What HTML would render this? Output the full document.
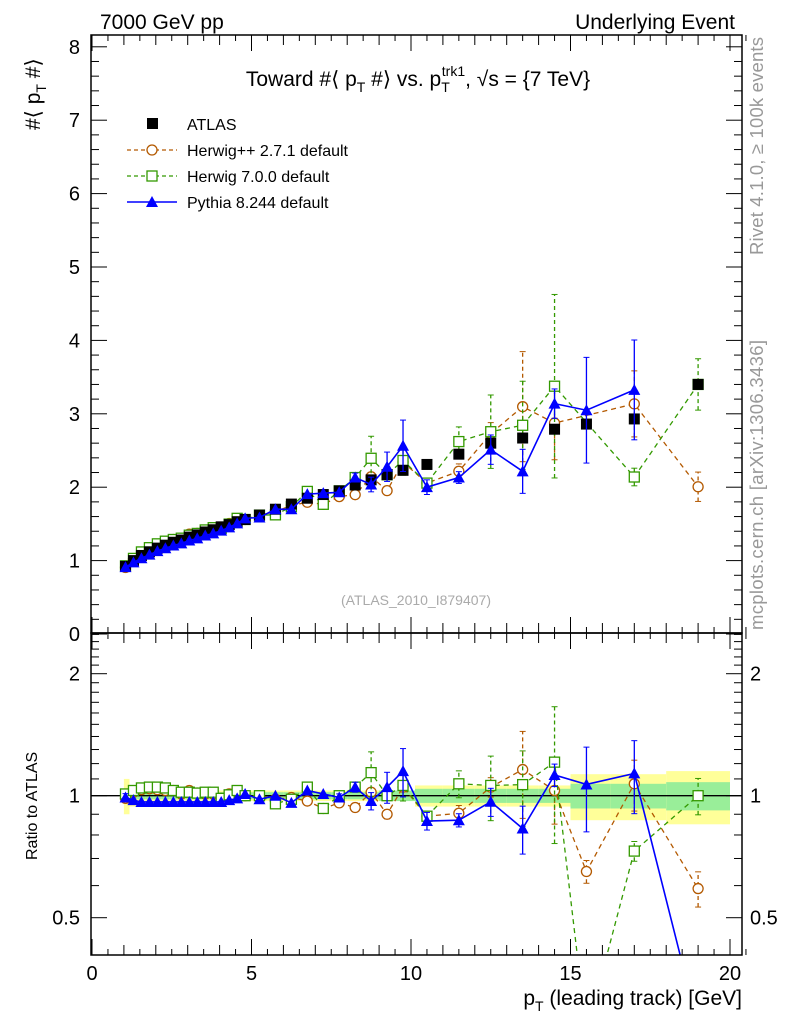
<!DOCTYPE html>
<html><head><meta charset="utf-8"><style>
body{margin:0;background:#fff}
svg{display:block;font-family:"Liberation Sans",sans-serif}
</style></head><body>
<svg id="c" width="786" height="1024" viewBox="0 0 786 1024">
<rect x="0" y="0" width="786" height="1024" fill="#fff"/>
<text x="100" y="29" font-size="21">7000 GeV pp</text>
<text x="735" y="29" font-size="21" text-anchor="end">Underlying Event</text>
<text x="418" y="86" font-size="21" text-anchor="middle">Toward #⟨ p<tspan font-size="14" dy="6">T</tspan><tspan dy="-6"> #⟩ vs. p</tspan><tspan font-size="14" dy="6">T</tspan><tspan font-size="14" dx="-8" dy="-16">trk1</tspan><tspan dy="10">, √s = {7 TeV}</tspan></text>
<text transform="translate(40,130) rotate(-90)" font-size="21">#⟨ p<tspan font-size="14" dy="6">T</tspan><tspan dy="-6"> #⟩</tspan></text>
<text transform="translate(37,860) rotate(-90)" font-size="16">Ratio to ATLAS</text>
<text x="742" y="1005" font-size="21" text-anchor="end">p<tspan font-size="14" dy="6">T</tspan><tspan dy="-6"> (leading track) [GeV]</tspan></text>
<text transform="translate(763,255) rotate(-90)" font-size="18.5" fill="#999" textLength="218">Rivet 4.1.0, ≥ 100k events</text>
<text transform="translate(763,630) rotate(-90)" font-size="18.5" fill="#999" textLength="290">mcplots.cern.ch [arXiv:1306.3436]</text>
<text x="416" y="605" font-size="14" fill="#aaa" text-anchor="middle">(ATLAS_2010_I879407)</text>
<g id="legend">
<g><rect x="147" y="118" width="11" height="11" fill="#000"/><text x="187" y="130" font-size="16">ATLAS</text></g>
<g><line x1="127" y1="150" x2="177" y2="150" stroke="#b35900" stroke-dasharray="4,3" stroke-width="1.3"/><circle cx="152" cy="150" r="5" fill="#fff" stroke="#b35900" stroke-width="1.3"/><text x="187" y="156" font-size="16">Herwig++ 2.7.1 default</text></g>
<g><line x1="127" y1="176" x2="177" y2="176" stroke="#339900" stroke-dasharray="4,3" stroke-width="1.3"/><rect x="147" y="171" width="10" height="10" fill="#fff" stroke="#339900" stroke-width="1.3"/><text x="187" y="182" font-size="16">Herwig 7.0.0 default</text></g>
<g><line x1="127" y1="202" x2="177" y2="202" stroke="#0000ff" stroke-width="1.5"/><polygon points="152,196 158,207 146,207" fill="#0000ff"/><text x="187" y="208" font-size="16">Pythia 8.244 default</text></g>
</g>
<g id="plots"></g>
</svg>
<script>
const xs=[1.05,1.3,1.55,1.8,2.05,2.3,2.55,2.8,3.05,3.3,3.55,3.8,4.05,4.3,4.55,4.8,5.25,5.75,6.25,6.75,7.25,7.75,8.25,8.75,9.25,9.75,10.5,11.5,12.5,13.5,14.5,15.5,17,19];
const atlas=[0.92,1.0,1.07,1.12,1.17,1.21,1.25,1.28,1.32,1.35,1.39,1.42,1.46,1.49,1.53,1.56,1.62,1.70,1.77,1.85,1.90,1.95,2.03,2.10,2.17,2.23,2.31,2.45,2.60,2.67,2.79,2.86,2.93,3.40];
const atlasTot=[0.10,0.06,0.05,0.05,0.04,0.04,0.04,0.04,0.04,0.04,0.04,0.04,0.03,0.03,0.03,0.03,0.03,0.03,0.03,0.03,0.03,0.03,0.03,0.03,0.03,0.03,0.06,0.06,0.06,0.06,0.06,0.13,0.13,0.15];
const atlasStat=[0.02,0.02,0.02,0.02,0.02,0.02,0.02,0.02,0.02,0.02,0.02,0.02,0.02,0.02,0.02,0.02,0.02,0.02,0.02,0.02,0.02,0.02,0.02,0.02,0.03,0.03,0.04,0.04,0.04,0.04,0.04,0.07,0.07,0.08];
const hppRatio=[0.985,1.02,1.035,1.04,1.035,1.03,1.03,1.01,1.03,1.015,1.01,1.01,0.985,1.01,1.02,1.0,1.0,0.98,0.99,0.97,0.93,0.96,0.935,1.02,0.9,1.05,0.89,0.905,1.05,1.16,1.03,0.65,1.07,0.59];
const hppInMain=[1,1,1,1,1,1,1,1,1,1,1,1,1,1,1,1,1,1,1,1,1,1,1,1,1,1,1,1,1,1,1,0,1,1];
const hppErr=[0.02,0.02,0.02,0.02,0.02,0.02,0.02,0.02,0.02,0.02,0.02,0.02,0.02,0.02,0.02,0.02,0.02,0.02,0.03,0.03,0.04,0.04,0.04,0.05,0.05,0.06,0.06,0.1,0.15,0.75,0.5,0.12,0.45,0.2];
const h7Ratio=[1.01,1.03,1.045,1.05,1.05,1.045,1.03,1.02,1.02,1.015,1.02,1.02,0.985,1.005,1.03,1.0,1.0,0.955,0.98,1.05,0.93,1.0,1.05,1.14,1.0,1.06,0.89,1.07,1.06,1.065,1.21,0.26,0.73,1.0];
const h7InMain=[1,1,1,1,1,1,1,1,1,1,1,1,1,1,1,1,1,1,1,1,1,1,1,1,1,1,1,1,1,1,1,0,1,1];
const h7Err=[0.02,0.02,0.02,0.02,0.02,0.02,0.02,0.02,0.02,0.02,0.02,0.02,0.02,0.02,0.02,0.02,0.02,0.02,0.03,0.03,0.04,0.04,0.05,0.3,0.05,0.2,0.06,0.2,0.5,0.6,1.25,0.1,0.12,0.35];
const pyRatio=[0.99,0.975,0.965,0.965,0.965,0.965,0.965,0.965,0.965,0.965,0.965,0.965,0.965,0.975,0.985,1.01,0.98,1.0,0.96,1.03,1.01,0.99,1.05,0.97,1.05,1.15,0.866,0.87,0.966,0.83,1.125,1.066,1.135,0.27];
const pyInMain=[1,1,1,1,1,1,1,1,1,1,1,1,1,1,1,1,1,1,1,1,1,1,1,1,1,1,1,1,1,1,1,1,1,0];
const pyErr=[0.02,0.02,0.02,0.02,0.02,0.02,0.02,0.02,0.02,0.02,0.02,0.02,0.02,0.02,0.02,0.02,0.02,0.02,0.02,0.03,0.03,0.04,0.06,0.1,0.2,0.35,0.1,0.08,0.2,0.3,0.2,0.72,0.68,0.1];
const xTicks=[0,5,10,15,20];
const yTicks=[0,1,2,3,4,5,6,7,8];
const rTicks=[0.5,1,2];

const NS='http://www.w3.org/2000/svg';
const L=91,R=742,T=35,M=633,B=955;
const X=v=>92+v*31.9;
const Y=v=>634-v*73.4;
const RY=v=>795.7-Math.log2(v)*122;
const g=document.getElementById('plots');
function mk(tag,at,parent){const e=document.createElementNS(NS,tag);for(const k in at)e.setAttribute(k,at[k]);(parent||g).appendChild(e);return e;}

const bands=mk('g',{});


for(let i=0;i<xs.length;i++){
  const lo=i==0?1.0:(xs[i-1]+xs[i])/2, hi=i==xs.length-1?20:(xs[i]+xs[i+1])/2;
  const y1=mk('rect',{x:X(lo),y:RY(1+atlasTot[i]),width:X(hi)-X(lo),height:RY(1-atlasTot[i])-RY(1+atlasTot[i]),fill:'#ffff99'},bands);
  
  
  const g1=mk('rect',{x:X(lo),y:RY(1+atlasStat[i]),width:X(hi)-X(lo),height:RY(1-atlasStat[i])-RY(1+atlasStat[i]),fill:'#99ee99'},bands);
  
  
}
const one=mk('line',{x1:L,x2:R,y1:RY(1),y2:RY(1),stroke:'#000','stroke-width':1.3});



const defs=mk('defs',{});
const c1=mk('clipPath',{id:'cm'},defs);mk('rect',{x:L,y:T,width:R-L,height:M-T},c1);
const c2=mk('clipPath',{id:'cr'},defs);mk('rect',{x:L,y:M,width:R-L,height:B-M},c2);

function marker(par,shape,x,y,col){
  let e;
  if(shape=='sq') e=mk('rect',{x:x-5,y:y-5,width:10,height:10,fill:'#fff',stroke:col,'stroke-width':1.3},par);
  else if(shape=='ci') e=mk('circle',{cx:x,cy:y,r:5,fill:'#fff',stroke:col,'stroke-width':1.3},par);
  else if(shape=='tr') e=mk('polygon',{points:`${x},${y-6} ${x+6},${y+5} ${x-6},${y+5}`,fill:col},par);
  else e=mk('rect',{x:x-5.5,y:y-5.5,width:11,height:11,fill:'#000'},par);
  
  
}
function series(name,ratio,inMain,err,col,dash,shape){
  const gm=mk('g',{'clip-path':'url(#cm)'});
  
  
  const gr=mk('g',{'clip-path':'url(#cr)'});
  
  
  let pm=[],pr=[];
  for(let i=0;i<xs.length;i++){
    const v=ratio[i]*atlas[i];
    if(inMain[i]) pm.push(X(xs[i])+','+Y(v));
    pr.push(X(xs[i])+','+RY(ratio[i]));
  }
  const a={fill:'none',stroke:col,'stroke-width':dash?1.3:1.6};
  if(dash)a['stroke-dasharray']='5,4';
  const l1=mk('polyline',Object.assign({points:pm.join(' ')},a),gm);
  
  
  const l2=mk('polyline',Object.assign({points:pr.join(' ')},a),gr);
  
  
  for(let i=0;i<xs.length;i++){
    const v=ratio[i]*atlas[i],x=X(xs[i]);
    const eb={stroke:col,'stroke-width':1.3};if(dash)eb['stroke-dasharray']='4,3';
    if(inMain[i]){
      if(err[i]>0.05){mk('line',Object.assign({x1:x,x2:x,y1:Y(v-err[i]),y2:Y(v+err[i])},eb),gm);
        mk('line',{x1:x-3,x2:x+3,y1:Y(v-err[i]),y2:Y(v-err[i]),stroke:col},gm);mk('line',{x1:x-3,x2:x+3,y1:Y(v+err[i]),y2:Y(v+err[i]),stroke:col},gm);}
      marker(gm,shape,x,Y(v),col);
    }
    const re=err[i]/atlas[i];
    if(re>0.02){const lo=Math.max(ratio[i]-re,0.01);
      mk('line',Object.assign({x1:x,x2:x,y1:RY(lo),y2:RY(ratio[i]+re)},eb),gr);
      mk('line',{x1:x-3,x2:x+3,y1:RY(lo),y2:RY(lo),stroke:col},gr);mk('line',{x1:x-3,x2:x+3,y1:RY(ratio[i]+re),y2:RY(ratio[i]+re),stroke:col},gr);}
    marker(gr,shape,x,RY(ratio[i]),col);
  }
}
series('herwigpp',hppRatio,hppInMain,hppErr,'#b35900',true,'ci');
series('herwig7',h7Ratio,h7InMain,h7Err,'#339900',true,'sq');
const ga=mk('g',{'clip-path':'url(#cm)'});


for(let i=0;i<xs.length;i++) marker(ga,'at',X(xs[i]),Y(atlas[i]),'#000');
series('pythia',pyRatio,pyInMain,pyErr,'#0000ff',false,'tr');

const ax=mk('g',{});


mk('rect',{x:L,y:T,width:R-L,height:M-T,fill:'none',stroke:'#000','stroke-width':1.5},ax);
mk('rect',{x:L,y:M,width:R-L,height:B-M,fill:'none',stroke:'#000','stroke-width':1.5},ax);
for(let v=0;v<=20.5;v+=0.5){const x=X(v),len=(v%5==0)?16:(v%1==0?10:6);
  for(const [y0,d] of [[T,1],[M,-1],[M,1],[B,-1]]) mk('line',{x1:x,x2:x,y1:y0,y2:y0+d*len,stroke:'#000'},ax);}
xTicks.forEach(v=>{const t=mk('text',{x:X(v),y:980,'font-size':20,'text-anchor':'middle'},ax);t.textContent=v;
  
  });
for(let v=0;v<=8.01;v+=0.2){const y=Y(v),len=Math.abs(v-Math.round(v))<0.01?16:8;
  mk('line',{x1:L,x2:L+len,y1:y,y2:y,stroke:'#000'},ax);mk('line',{x1:R,x2:R-len,y1:y,y2:y,stroke:'#000'},ax);}
yTicks.forEach(v=>{const t=mk('text',{x:80,y:Y(v)+7,'font-size':20,'text-anchor':'end'},ax);t.textContent=v;
  
  });
for(const v of [0.4,0.5,0.6,0.7,0.8,0.9,1,1.1,1.2,1.3,1.4,1.5,1.6,1.7,1.8,1.9,2,2.1,2.2,2.3,2.4,2.5]){const y=RY(v);if(y<M||y>B)continue;
  const len=(v==0.5||v==1||v==2)?16:8;mk('line',{x1:L,x2:L+len,y1:y,y2:y,stroke:'#000'},ax);mk('line',{x1:R,x2:R-len,y1:y,y2:y,stroke:'#000'},ax);}
rTicks.forEach(v=>{for(const [x,an] of [[80,'end'],[750,'start']]){const t=mk('text',{x:x,y:RY(v)+7,'font-size':20,'text-anchor':an},ax);t.textContent=v;
  
  }});
</script>
</body></html>
